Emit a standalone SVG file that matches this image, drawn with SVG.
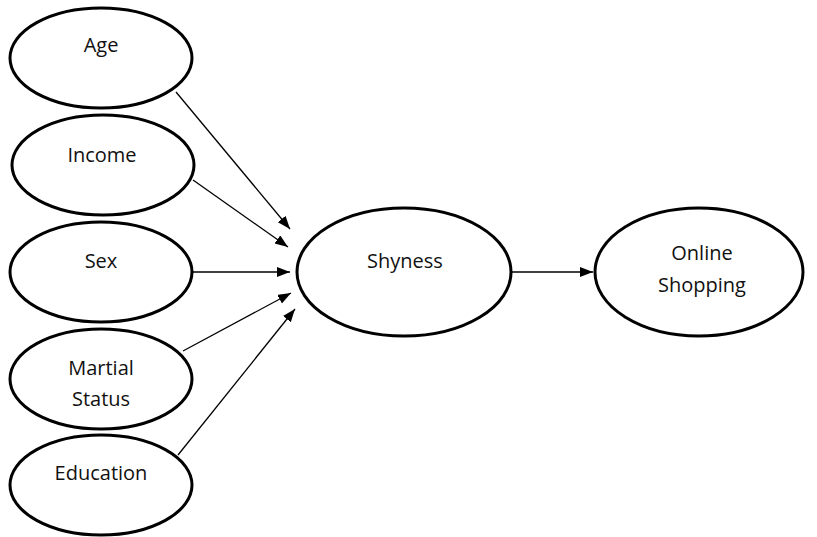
<svg xmlns="http://www.w3.org/2000/svg" width="817" height="537" viewBox="0 0 817 537">
<style>
.node ellipse{fill:#fff;stroke:#000;stroke-width:3}
.node text{font-family:"Open Sans","Liberation Sans",sans-serif;font-size:20px;fill:#111;text-anchor:middle}
.edges line{stroke:#000;stroke-width:1.3;marker-end:url(#arr)}
</style>
<defs>
<marker id="arr" markerUnits="userSpaceOnUse" markerWidth="14" markerHeight="12" refX="13" refY="5" orient="auto">
<path d="M0,0 L13,5 L0,10 Z" fill="#000"/>
</marker>
</defs>
<rect width="817" height="537" fill="#fff"/>
<g class="edges">
<line x1="176" y1="92" x2="290" y2="229"/>
<line x1="193" y1="180" x2="288" y2="247"/>
<line x1="193" y1="272" x2="290" y2="272"/>
<line x1="183" y1="351" x2="291" y2="293"/>
<line x1="178" y1="455" x2="295" y2="309"/>
<line x1="512" y1="272" x2="593" y2="272"/>
</g>
<g id="age" class="node"><ellipse cx="101" cy="58" rx="91" ry="50"/><text x="101" y="52">Age</text></g>
<g id="income" class="node"><ellipse cx="103" cy="165" rx="91" ry="50"/><text x="102" y="162">Income</text></g>
<g id="sex" class="node"><ellipse cx="101" cy="272" rx="91" ry="50"/><text x="101" y="268">Sex</text></g>
<g id="marital" class="node"><ellipse cx="101" cy="379" rx="91" ry="50"/><text x="101" y="375">Martial</text><text x="101" y="406">Status</text></g>
<g id="education" class="node"><ellipse cx="101" cy="485" rx="91" ry="50"/><text x="101" y="480">Education</text></g>
<g id="shyness" class="node"><ellipse cx="404" cy="272" rx="107" ry="64"/><text x="405" y="268">Shyness</text></g>
<g id="online" class="node"><ellipse cx="699" cy="272" rx="104" ry="64"/><text x="702" y="260">Online</text><text x="702" y="292">Shopping</text></g>
</svg>
